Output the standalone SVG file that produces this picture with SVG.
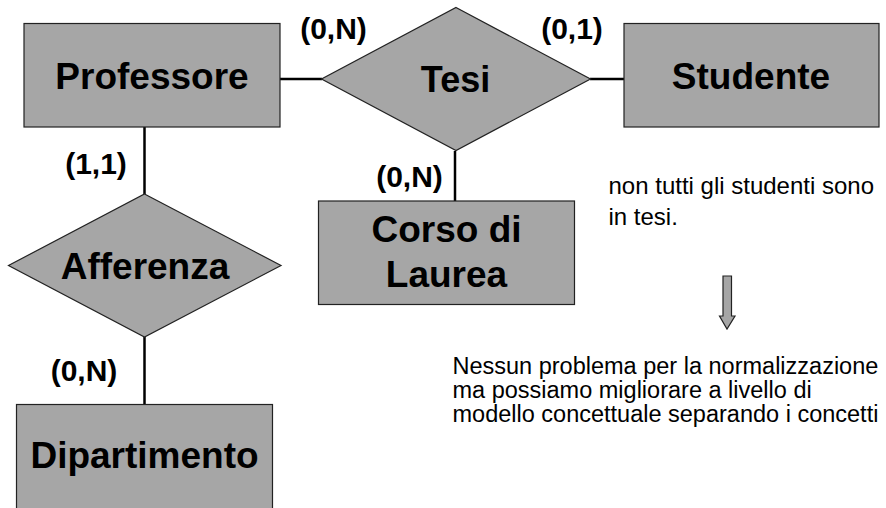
<svg xmlns="http://www.w3.org/2000/svg" width="886" height="508" viewBox="0 0 886 508">
  <style>
    .shape { fill: #a6a6a6; stroke: #222222; stroke-width: 1.2; }
    .conn { stroke: #000000; stroke-width: 2.5; fill: none; }
    .node { font-family: "Liberation Sans", Arial, sans-serif; font-weight: bold; font-size: 37px; fill: #000000; text-anchor: middle; }
    .card { font-family: "Liberation Sans", Arial, sans-serif; font-weight: bold; font-size: 30px; fill: #000000; text-anchor: middle; }
    .note { font-family: "Liberation Sans", Arial, sans-serif; font-size: 23.5px; fill: #000000; }
  </style>
  <rect width="886" height="508" fill="#ffffff"/>

  <g id="connectors">
    <line class="conn" x1="280" y1="79" x2="322" y2="79"/>
    <line class="conn" x1="590" y1="79" x2="624" y2="79"/>
    <line class="conn" x1="455" y1="151" x2="455" y2="201"/>
    <line class="conn" x1="144.5" y1="127" x2="144.5" y2="194"/>
    <line class="conn" x1="144.5" y1="337" x2="144.5" y2="404"/>
    <text class="card" x="333.5" y="39">(0,N)</text>
    <text class="card" x="572" y="39">(0,1)</text>
    <text class="card" x="96" y="174">(1,1)</text>
    <text class="card" x="409.5" y="186.5">(0,N)</text>
    <text class="card" x="84" y="380.5">(0,N)</text>
  </g>

  <g id="professore">
    <rect class="shape" x="24" y="23.5" width="256" height="103.5"/>
    <text class="node" x="152" y="89">Professore</text>
  </g>

  <g id="tesi">
    <polygon class="shape" points="456,7.5 590.5,79 456,150.5 321.5,79"/>
    <text class="node" x="455.5" y="92" style="font-size:36px">Tesi</text>
  </g>

  <g id="studente">
    <rect class="shape" x="624" y="23.5" width="255" height="103.5"/>
    <text class="node" x="751" y="89">Studente</text>
  </g>

  <g id="corso-di-laurea">
    <rect class="shape" x="318.5" y="201" width="256" height="103.5"/>
    <text class="node" x="446.5" y="241.5">Corso di</text>
    <text class="node" x="446.5" y="287">Laurea</text>
  </g>

  <g id="afferenza">
    <polygon class="shape" points="144.5,194 281,265.5 144.5,337 8.5,265.5"/>
    <text class="node" x="145" y="279">Afferenza</text>
  </g>

  <g id="dipartimento">
    <rect class="shape" x="16.5" y="404.5" width="256" height="110"/>
    <text class="node" x="144.5" y="467.5">Dipartimento</text>
  </g>

  <g id="nota-studenti">
    <text class="note" x="608.5" y="194" style="font-size:24px">non tutti gli studenti sono</text>
    <text class="note" x="608.5" y="225" style="font-size:24px">in tesi.</text>
  </g>

  <g id="freccia">
    <polygon class="shape" points="723,276 731.5,276 731.5,316 735,316 727,329 719.5,316 723,316"/>
  </g>

  <g id="nota-normalizzazione">
    <text class="note" x="452.5" y="374">Nessun problema per la normalizzazione</text>
    <text class="note" x="452.5" y="398">ma possiamo migliorare a livello di</text>
    <text class="note" x="452.5" y="422">modello concettuale separando i concetti</text>
  </g>
</svg>
